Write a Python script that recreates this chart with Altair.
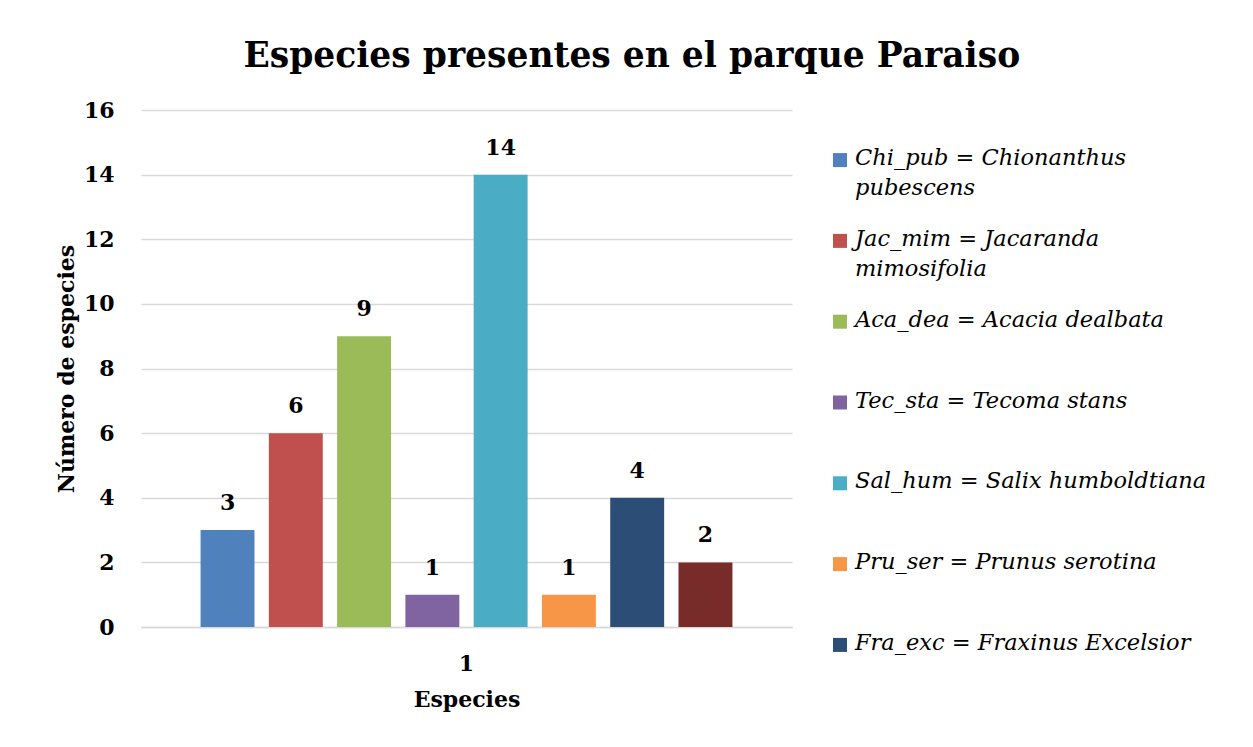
import altair as alt
import pandas as pd

# ---- data ----
group = ["1"] * 8
species = ["Chi_pub", "Jac_mim", "Aca_dea", "Tec_sta", "Sal_hum", "Pru_ser", "Fra_exc", "Otra"]
counts = [3, 6, 9, 1, 14, 1, 4, 2]
colors = ["#4F81BD", "#C0504D", "#9BBB59", "#8064A2", "#4BACC6", "#F79646", "#2C4D75", "#772C2A"]

legend_codes = ["Chi_pub", "Jac_mim", "Aca_dea", "Tec_sta", "Sal_hum", "Pru_ser", "Fra_exc"]
legend_labels = [
    "Chi_pub = Chionanthus\npubescens",
    "Jac_mim = Jacaranda\nmimosifolia",
    "Aca_dea = Acacia dealbata",
    "Tec_sta = Tecoma stans",
    "Sal_hum = Salix humboldtiana",
    "Pru_ser = Prunus serotina",
    "Fra_exc = Fraxinus Excelsior",
]
y_ticks = [0, 2, 4, 6, 8, 10, 12, 14, 16]

FONT = "DejaVu Serif"

df = pd.DataFrame({"grupo": group, "especie": species, "n": counts})
leg = pd.DataFrame({"especie": legend_codes, "label": legend_labels,
                    "orden": list(range(len(legend_codes)))})

color_scale = alt.Scale(domain=species, range=colors)

base = alt.Chart(df).encode(
    x=alt.X("grupo:N", title="Especies",
            scale=alt.Scale(paddingInner=0, paddingOuter=0.112),
            axis=alt.Axis(labelAngle=0, labelFont=FONT, labelFontSize=22,
                          labelFontWeight="bold", labelColor="black", labelPadding=26,
                          titleFont=FONT, titleFontSize=22, titleFontWeight="bold",
                          titleColor="black", titlePadding=15,
                          ticks=False, tickSize=0, domainColor="#d9d9d9",
                          domainWidth=1.5, grid=False)),
    xOffset=alt.XOffset("especie:N", sort=species,
                        scale=alt.Scale(paddingInner=0.21, paddingOuter=0)),
)

bars = base.mark_bar().encode(
    y=alt.Y("n:Q", title="Número de especies",
            scale=alt.Scale(domain=[0, 16]),
            axis=alt.Axis(values=y_ticks, labelFont=FONT, labelFontSize=22,
                          labelFontWeight="bold", labelColor="black", labelPadding=27,
                          titleFont=FONT, titleFontSize=22, titleFontWeight="bold",
                          titleColor="black", titlePadding=5,
                          ticks=False, tickSize=0, domain=False,
                          gridColor="#d9d9d9", gridWidth=1.5)),
    color=alt.Color("especie:N", scale=color_scale, legend=None),
)

labels = base.mark_text(font=FONT, fontSize=22, fontWeight="bold", color="black",
                        baseline="middle", dy=-27).encode(
    y=alt.Y("n:Q"),
    text=alt.Text("n:Q"),
)

main = alt.layer(bars, labels).properties(width=651, height=517)

leg_base = alt.Chart(leg).encode(
    y=alt.Y("especie:N", sort=legend_codes, axis=None,
            scale=alt.Scale(type="point", padding=0.62)),
)
leg_sq = leg_base.mark_square(size=196, opacity=1).encode(
    x=alt.value(15),
    color=alt.Color("especie:N", scale=color_scale, legend=None),
)
leg_txt = leg_base.mark_text(font=FONT, fontSize=22.5, fontStyle="italic", color="black",
                             align="left", baseline="top", dy=-13, lineBreak="\n",
                             lineHeight=30).encode(
    x=alt.value(30),
    text="label:N",
)
legend = alt.layer(leg_sq, leg_txt).properties(width=360, height=585)

chart = alt.hconcat(main, legend, spacing=33).properties(
    title=alt.TitleParams("Especies presentes en el parque Paraiso", font=FONT,
                          fontSize=34.5, fontWeight="bold", color="black",
                          anchor="middle", offset=25, dx=1),
    padding={"left": 47, "top": 30, "right": 5, "bottom": 5},
    background="white",
).configure_view(stroke=None)

chart.save("out.html", embed_options={"renderer": "svg", "actions": False})
